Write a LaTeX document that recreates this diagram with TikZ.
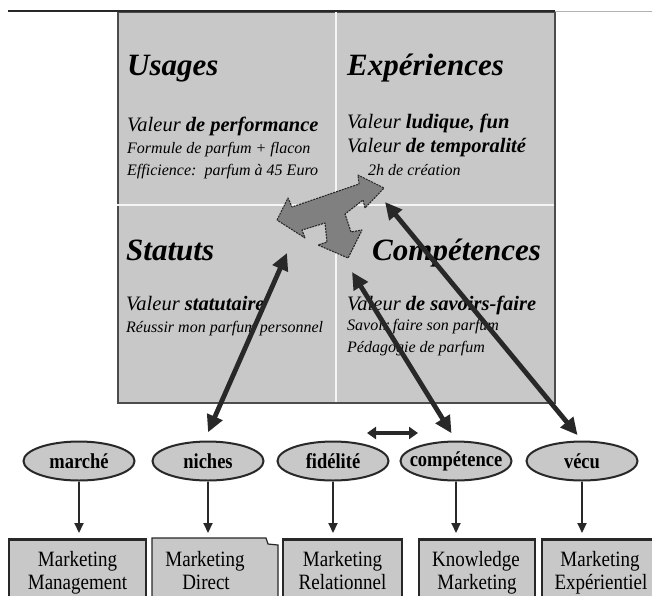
\documentclass[tikz,border=0pt]{standalone}
\usepackage{fontspec}
\setmainfont{Liberation Serif}
\usetikzlibrary{arrows.meta,shapes.geometric}
\definecolor{boxgray}{RGB}{200,200,200}
\definecolor{tgray}{RGB}{128,128,128}
\definecolor{dark}{RGB}{40,40,40}
\newcommand{\fsz}[1]{\fontsize{#1}{#1}\selectfont}
\newcommand{\tallx}[1]{\scalebox{1}[1.15]{#1}}
\begin{document}
\begin{tikzpicture}[x=1pt,y=-1pt,
  title/.style={font=\fsz{31}\bfseries\itshape, anchor=base west, inner sep=0},
  val/.style={font=\fsz{20.5}\itshape, anchor=base west, inner sep=0},
  small/.style={font=\fsz{16}\itshape, anchor=base west, inner sep=0},
  ell/.style={ellipse, draw=dark, line width=2pt, fill=boxgray, minimum width=111pt, minimum height=39pt, inner sep=0, font=\fsz{18.5}\bfseries},
  mbox/.style={rectangle, draw=dark, line width=2.5pt, fill=boxgray, anchor=north, inner sep=0, minimum height=70pt},
  btxt/.style={font=\fsz{19}, anchor=base, inner sep=0},
  varrow/.style={draw=dark, line width=2pt, -{Triangle[length=10pt,width=9pt]}, shorten >=5pt},
  bigarrow/.style={draw=dark, line width=4.8pt, {Triangle[length=17pt,width=16pt]}-{Triangle[length=17pt,width=16pt]}},
]
\useasboundingbox (0,0) rectangle (652,595);
\clip (0,0) rectangle (652,595);
\fill[white] (0,0) rectangle (652,595);

% main grid box
\node[draw=black!70, line width=1.5pt, fill=boxgray, minimum width=437pt, minimum height=391pt, inner sep=0, anchor=north west] (grid) at (117,11) {};
\draw[white!92!gray, line width=1.2pt] (336,11) -- (336,402);
\draw[white!92!gray, line width=1.2pt] (117,205) -- (554,205);
\draw[dark, line width=2.2pt] (8,11) -- (555,11);
\draw[gray!60, line width=1pt] (555,11) -- (652,11);

% quadrant texts
\node[title] (tU) at (127,75) {Usages};
\node[title] (tE) at (347,75) {Expériences};
\node[val] (vU) at (127,131) {Valeur \textbf{de performance}};
\node[small] (sU1) at (127,153) {Formule de parfum + flacon};
\node[small] (sU2) at (127,175) {Efficience:\ \ parfum à 45 Euro};
\node[val] (vE1) at (347,128) {Valeur \textbf{ludique, fun}};
\node[val] (vE2) at (347,152) {Valeur \textbf{de temporalité}};
\node[small] (sE) at (368,175) {2h de création};
\node[title] (tS) at (126,260) {Statuts};
\node[title] (tC) at (372,260) {Compétences};
\node[val] (vS) at (126,310) {Valeur \textbf{statutaire}};
\node[small] (sS) at (126,332) {Réussir mon parfum personnel};
\node[val] (vC) at (347,310) {Valeur \textbf{de savoirs-faire}};
\node[small] (sC1) at (347,330) {Savoir faire son parfum};
\node[small] (sC2) at (347,352) {Pédagogie de parfum};

% T-shaped three-headed arrow
\filldraw[fill=tgray, draw=dark, line width=1.1pt, dash pattern=on 2pt off 1pt, line join=round]
 (277,220) -- (288,198) -- (292,207) -- (359,184) -- (358,175) -- (384,188) -- (365,208)
 -- (363,200) -- (345,214) -- (351,232) -- (362,230) -- (348,258) -- (318,245) -- (327,242)
 -- (325,223) -- (302,230) -- (305,238) -- cycle;

% ellipses
\node[ell] (marche) at (79,461) {\makebox[0pt]{\tallx{marché}}};
\node[ell] (niches) at (208,461) {\makebox[0pt]{\tallx{niches}}};
\node[ell] (fidel) at (333,461) {\makebox[0pt]{\tallx{fidélité}}};
\node[ell] (comp) at (456,461) {\makebox[0pt]{\tallx{compétence}}};
\node[ell] (vecu) at (582,461) {\makebox[0pt]{\tallx{vécu}}};

% bottom boxes
\node[mbox, minimum width=137pt] (b1) at (77.5,538) {};
\node[inner sep=0, minimum width=126pt, minimum height=70pt, anchor=north] (b2) at (215,538) {};
\filldraw[fill=boxgray, draw=dark, line width=1.2pt] (152,610) -- (152,538) -- (266,538) -- (268,544) -- (278,545) -- (278,610);
\node[mbox, minimum width=119pt] (b3) at (342.5,538) {};
\node[mbox, minimum width=116pt] (b4) at (477,538) {};
\node[mbox, minimum width=120pt] (b5) at (602,538) {};

\node[btxt] at (77.5,566) {\tallx{Marketing}};
\node[btxt] at (77.5,589) {\tallx{Management}};
\node[btxt] at (205,566) {\tallx{Marketing}};
\node[btxt] at (206,589) {\tallx{Direct}};
\node[btxt] at (342.5,566) {\tallx{Marketing}};
\node[btxt] at (342.5,589) {\tallx{Relationnel}};
\node[btxt] at (476,566) {\tallx{Knowledge}};
\node[btxt] at (477,589) {\tallx{Marketing}};
\node[btxt] at (600,566) {\tallx{Marketing}};
\node[btxt] at (601,589) {\tallx{Expérientiel}};

% vertical arrows
\draw[varrow] (marche.south) -- (marche.south |- b1.north);
\draw[varrow] (niches.south) -- (niches.south |- b2.north);
\draw[varrow] (fidel.south) -- (fidel.south |- b3.north);
\draw[varrow] (comp.south) -- (comp.south |- b4.north);
\draw[varrow] (vecu.south) -- (vecu.south |- b5.north);

% long arrows
\coordinate (s1) at (287,253);
\coordinate (s2) at (352,272);
\coordinate (s3) at (385,202);
\draw[bigarrow, shorten <=9pt] (niches.100) -- (s1);
\draw[bigarrow, shorten <=8.5pt] (comp.north) -- (s2);
\draw[bigarrow, shorten <=7pt] (vecu.north) -- (s3);

% small double arrow
\coordinate (d1) at (367,433);
\coordinate (d2) at (418,433);
\draw[dark, line width=4pt, {Triangle[length=9pt,width=12pt]}-{Triangle[length=9pt,width=12pt]}] (d1) -- (d2);
\end{tikzpicture}
\end{document}
